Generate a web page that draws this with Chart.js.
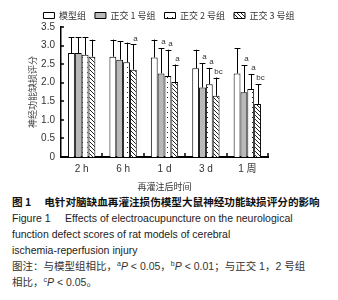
<!DOCTYPE html>
<html>
<head>
<meta charset="utf-8">
<script src="https://cdn.jsdelivr.net/npm/chart.js@4"></script>
<style>
  body { margin:0; background:#fff; width:338px; height:300px; overflow:hidden; position:relative; }
  #wrap { position:absolute; left:0; top:0; width:338px; height:192px; }
  #cap { position:absolute; left:12px; top:194px; width:326px; font-family:"Liberation Sans", Arial, "Noto Sans CJK SC", sans-serif; font-size:10.5px; line-height:16px; color:#222; white-space:nowrap; }
  #cap .t1 { font-family:"Noto Sans CJK SC", sans-serif; font-weight:bold; font-size:10.6px; color:#111; }
  #cap .cn { font-family:"Liberation Sans", "Noto Sans CJK SC", sans-serif; color:#333; }
  #cap sup { font-size:7px; vertical-align:4px; line-height:0; }
</style>
</head>
<body>
<div id="wrap"><canvas id="c" width="338" height="192"></canvas></div>
<div id="cap">
  <div class="t1">图 1　 电针对脑缺血再灌注损伤模型大鼠神经功能缺损评分的影响</div>
  <div>Figure 1&nbsp;&nbsp;&nbsp;&nbsp; Effects of electroacupuncture on the neurological</div>
  <div>function defect scores of rat models of cerebral</div>
  <div>ischemia-reperfusion injury</div>
  <div class="cn">图注：与模型组相比，<sup>a</sup><i>P</i> &lt; 0.05，<sup>b</sup><i>P</i> &lt; 0.01；与正交 1，2 号组</div>
  <div class="cn">相比，<sup>c</sup><i>P</i> &lt; 0.05。</div>
</div>
<script>
const categories = ['2 h', '6 h', '1 d', '3 d', '1 周'];
const groupNames = ['模型组', '正交 1 号组', '正交 2 号组', '正交 3 号组'];
const modelMean = [2.80, 2.70, 2.68, 2.39, 2.25];
const modelSd   = [0.42, 0.46, 0.48, 0.50, 0.68];
const zj1Mean   = [2.80, 2.62, 2.25, 1.87, 1.74];
const zj1Sd     = [0.42, 0.49, 0.68, 0.66, 0.73];
const zj2Mean   = [2.75, 2.55, 2.18, 1.96, 1.83];
const zj2Sd     = [0.47, 0.53, 0.71, 0.44, 0.40];
const zj3Mean   = [2.70, 2.35, 2.02, 1.65, 1.43];
const zj3Sd     = [0.46, 0.68, 0.47, 0.49, 0.53];
const modelSig  = ['', '', '', '', ''];
const zj1Sig    = ['', '', 'a', 'a', 'a'];
const zj2Sig    = ['', '', 'a', 'a', 'a'];
const zj3Sig    = ['', 'a', 'a', 'bc', 'bc'];
const yTicks    = [0, 0.5, 1.0, 1.5, 2.0, 2.5, 3.0, 3.5];

function makePattern(size, draw) {
  const cv = document.createElement('canvas');
  cv.width = size; cv.height = size;
  const g = cv.getContext('2d');
  g.fillStyle = '#fff';
  g.fillRect(0, 0, size, size);
  g.fillStyle = '#222';
  draw(g);
  return document.getElementById('c').getContext('2d').createPattern(cv, 'repeat');
}
const dotFill = makePattern(5, g => { g.fillRect(2, 2, 1, 1); });
const hatchFill = makePattern(4, g => { for (let i = 0; i < 4; i++) g.fillRect(i, i, 1, 1); });

const fills = ['#ffffff', '#b9b9b9', dotFill, hatchFill];
const means = [modelMean, zj1Mean, zj2Mean, zj3Mean];
const sds = [modelSd, zj1Sd, zj2Sd, zj3Sd];
const sigs = [modelSig, zj1Sig, zj2Sig, zj3Sig];

const errorBars = {
  id: 'errorBars',
  afterInit(chart) {
    // keep the legend row short so the plot starts where the reference's does
    const orig = chart.legend.fit;
    chart.legend.fit = function () { orig.call(this); this.height = 25; };
  },
  afterDatasetsDraw(chart) {
    const ctx = chart.ctx, y = chart.scales.y, x = chart.scales.x, area = chart.chartArea;
    ctx.save();
    ctx.strokeStyle = '#000';
    ctx.lineWidth = 1;
    chart.data.datasets.forEach((ds, i) => {
      chart.getDatasetMeta(i).data.forEach((bar, j) => {
        const top = y.getPixelForValue(means[i][j] + sds[i][j]);
        const px = Math.round(bar.x) + 0.5;
        const half = bar.width / 2;
        ctx.beginPath();
        ctx.moveTo(px, bar.y);
        ctx.lineTo(px, top);
        ctx.moveTo(px - half + 0.5, Math.round(top) + 0.5);
        ctx.lineTo(px + half - 0.5, Math.round(top) + 0.5);
        ctx.stroke();
        if (sigs[i][j]) {
          ctx.fillStyle = '#333';
          ctx.font = '8px "Liberation Sans", Arial, sans-serif';
          ctx.textAlign = 'center';
          ctx.textBaseline = 'bottom';
          ctx.fillText(sigs[i][j], px + 2, top - 2);
        }
      });
    });
    // inward ticks on y axis
    ctx.lineWidth = 1.5;
    y.ticks.forEach(t => {
      const py = Math.round(y.getPixelForValue(t.value));
      ctx.beginPath();
      ctx.moveTo(area.left, py);
      ctx.lineTo(area.left + 3, py);
      ctx.stroke();
    });
    // small upward ticks between categories
    for (let k = 1; k <= categories.length; k++) {
      const px = Math.round(x.getPixelForValue(k - 0.5));
      ctx.beginPath();
      ctx.moveTo(px, area.bottom);
      ctx.lineTo(px, area.bottom - 4);
      ctx.stroke();
    }
    ctx.restore();
  }
};

new Chart(document.getElementById('c'), {
  type: 'bar',
  data: {
    labels: categories,
    datasets: groupNames.map((name, i) => ({
      label: name,
      data: means[i],
      backgroundColor: fills[i],
      borderColor: '#000',
      borderWidth: 1,
      categoryPercentage: 0.66,
      barPercentage: 1.0
    }))
  },
  options: {
    responsive: false,
    animation: false,
    events: [],
    layout: { padding: { top: 2, right: 0, left: 0, bottom: 0 } },
    plugins: {
      legend: {
        position: 'top',
        labels: {
          boxWidth: 11, boxHeight: 6, padding: 9,
          color: '#333',
          font: { family: '"Noto Sans CJK SC", sans-serif', size: 9 }
        }
      },
      tooltip: { enabled: false }
    },
    scales: {
      x: {
        grid: { display: false, drawTicks: false },
        border: { color: '#000', width: 2 },
        ticks: { color: '#333', padding: 6, font: { family: '"Liberation Sans", "Noto Sans CJK SC", sans-serif', size: 10 } },
        title: { display: true, text: '再灌注后时间', color: '#333', padding: { top: 2, bottom: 0 }, font: { family: '"Noto Sans CJK SC", sans-serif', size: 9 } },
        afterFit(s) { s.height = 35; }
      },
      y: {
        min: 0, max: 3.5,
        afterBuildTicks(s) { s.ticks = yTicks.map(v => ({ value: v })); },
        grid: { display: false, drawTicks: false },
        border: { color: '#000', width: 1.5 },
        ticks: { color: '#333', padding: 6, font: { family: '"Liberation Sans", Arial, sans-serif', size: 10 },
                 callback: v => v === 0 ? '0' : v.toFixed(1) },
        title: { display: true, text: '神经功能缺损评分', color: '#444', padding: { top: 27, bottom: 4 }, font: { family: '"Noto Sans CJK SC", sans-serif', size: 9 } },
        afterFit(s) { s.width = 61; }
      },
      spacer: {
        position: 'right',
        grid: { display: false, drawTicks: false },
        border: { display: false },
        ticks: { display: false },
        afterFit(s) { s.width = 70; }
      }
    }
  },
  plugins: [errorBars]
});
</script>
</body>
</html>
